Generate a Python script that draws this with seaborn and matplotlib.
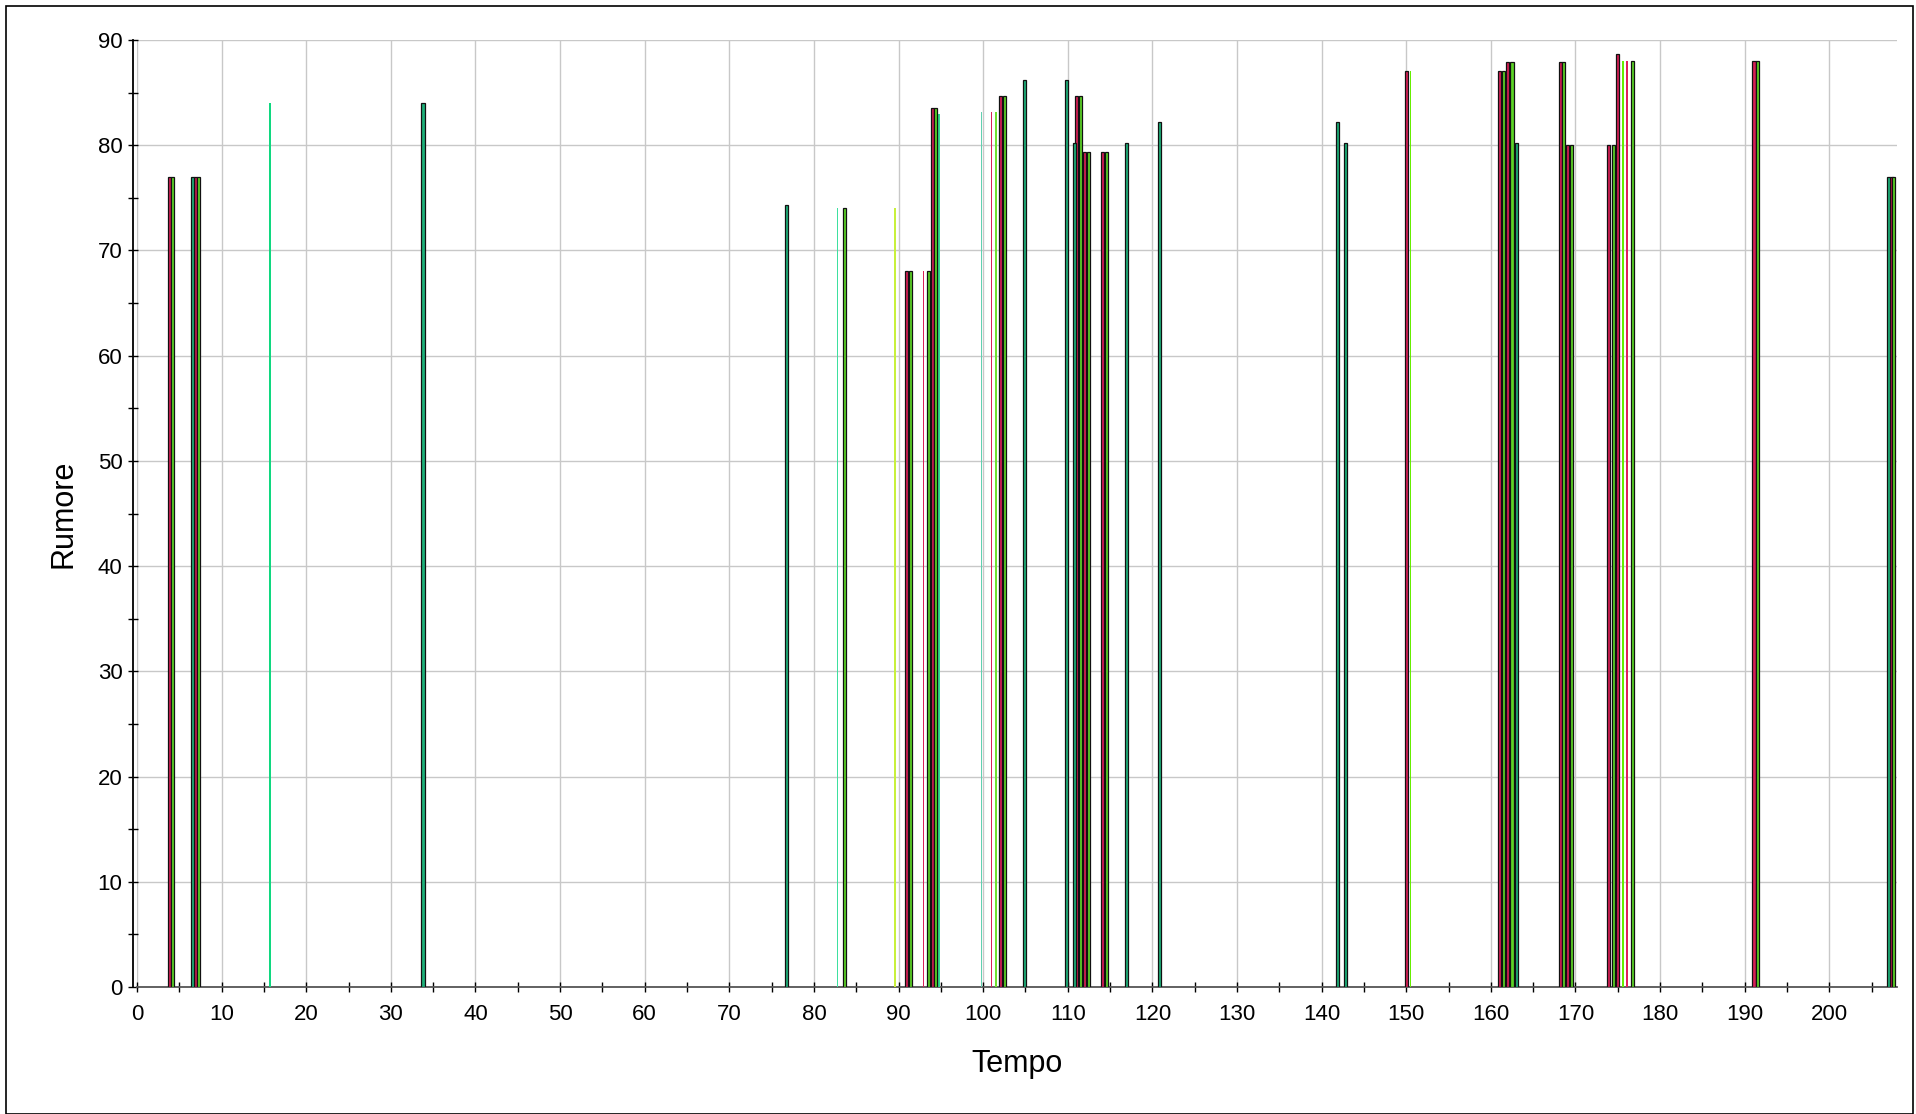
import numpy as np
import pandas as pd
import matplotlib
matplotlib.use("Agg")
import matplotlib.pyplot as plt
import seaborn as sns
from matplotlib.patches import Rectangle
from matplotlib.ticker import MultipleLocator

# ---- data ----
crimson_t = [3.85, 6.9, 90.9, 94.0, 102.0, 111.0, 112.0, 114.1, 150.0, 161.0, 162.0,
             168.2, 169.1, 173.9, 175.0, 191.1, 207.3]
crimson_v = [77, 77, 68, 83.5, 84.7, 84.7, 79.4, 79.4, 87.1, 87.1, 87.9,
             87.9, 80, 80, 88.7, 88, 77]

lime_t = [4.25, 7.3, 83.6, 91.4, 93.5, 94.4, 102.5, 111.5, 112.45, 114.6, 161.5,
          162.5, 168.6, 169.5, 174.5, 176.7, 191.5, 207.6]
lime_v = [77, 77, 74, 68, 68, 83.5, 84.7, 84.7, 79.4, 79.4, 87.1,
          87.9, 87.9, 80, 80, 88, 88, 77]

teal_t = [6.55, 33.8, 76.8, 104.9, 109.85, 110.75, 116.9, 120.85, 141.9, 142.8, 163.0, 207.0]
teal_v = [77, 84, 74.3, 86.2, 86.2, 80.2, 80.2, 82.2, 82.2, 80.2, 80.2, 77]

thin_t = [15.7, 82.8, 89.6, 92.95, 94.8, 99.8, 101.0, 101.5, 150.5, 175.6, 176.1]
thin_v = [84, 74, 74, 68, 83, 83.2, 83.2, 83.2, 87.1, 88, 88]
thin_c = ["#10D880", "#3EE0A0", "#C8F03C", "#D8205A", "#30D890", "#60D0B0",
          "#D8205A", "#70E030", "#66EE00", "#66EE00", "#E0205A"]

x_ticks = list(range(0, 201, 10))
y_ticks = list(range(0, 91, 10))

series_colors = {"crimson": "#D61E55", "lime": "#5CD426", "teal": "#1DB07A"}

df = pd.concat([
    pd.DataFrame({"Tempo": crimson_t, "Rumore": crimson_v, "serie": "crimson"}),
    pd.DataFrame({"Tempo": lime_t, "Rumore": lime_v, "serie": "lime"}),
    pd.DataFrame({"Tempo": teal_t, "Rumore": teal_v, "serie": "teal"}),
], ignore_index=True)

sns.set_style("white")
plt.rcParams["font.family"] = ["Liberation Sans", "DejaVu Sans"]

fig = plt.figure(figsize=(19.16, 11.14), dpi=100)
ax = fig.add_axes([137 / 1916, 127 / 1114, 1760 / 1916, 947 / 1114])

# thin bars (no outline)
for t, v, c in zip(thin_t, thin_v, thin_c):
    ax.bar(t, v, width=0.16, color=c, linewidth=0, zorder=3)

# outlined bars
for name, sub in df.groupby("serie"):
    ax.bar(sub["Tempo"], sub["Rumore"], width=0.36, color=series_colors[name],
           edgecolor="#111111", linewidth=0.9, zorder=3)

ax.set_xlim(0, 208)
ax.set_ylim(0, 90)
ax.set_xticks(x_ticks)
ax.set_yticks(y_ticks)
ax.xaxis.set_minor_locator(MultipleLocator(5))
ax.yaxis.set_minor_locator(MultipleLocator(5))
ax.grid(True, which="major", color="#C8C8C8", linewidth=1.0, zorder=0)
ax.set_axisbelow(True)

for s in ["top", "right"]:
    ax.spines[s].set_visible(False)
ax.spines["left"].set_position(("outward", 3))
ax.spines["left"].set_color("black")
ax.spines["left"].set_linewidth(1.3)
ax.spines["bottom"].set_color("#555555")
ax.spines["bottom"].set_linewidth(1.3)

ax.tick_params(axis="both", which="major", direction="inout", length=7, width=1.0,
               color="black", labelsize=16, labelcolor="black")
ax.tick_params(axis="both", which="minor", direction="inout", length=7, width=1.0,
               color="black")
ax.tick_params(axis="x", which="both", bottom=True)
ax.tick_params(axis="y", which="both", left=True)
ax.tick_params(axis="x", which="major", pad=9)
ax.tick_params(axis="y", which="major", pad=4)

ax.set_xlabel("Tempo", fontsize=22, labelpad=17, color="black")
ax.set_ylabel("Rumore", fontsize=22, labelpad=14, color="black")

fig.patches.append(Rectangle((6 / 1916, 0), 1907 / 1916, 1108 / 1114,
                             transform=fig.transFigure, fill=False,
                             edgecolor="black", linewidth=1.2))

fig.savefig("out.png", dpi=100)
